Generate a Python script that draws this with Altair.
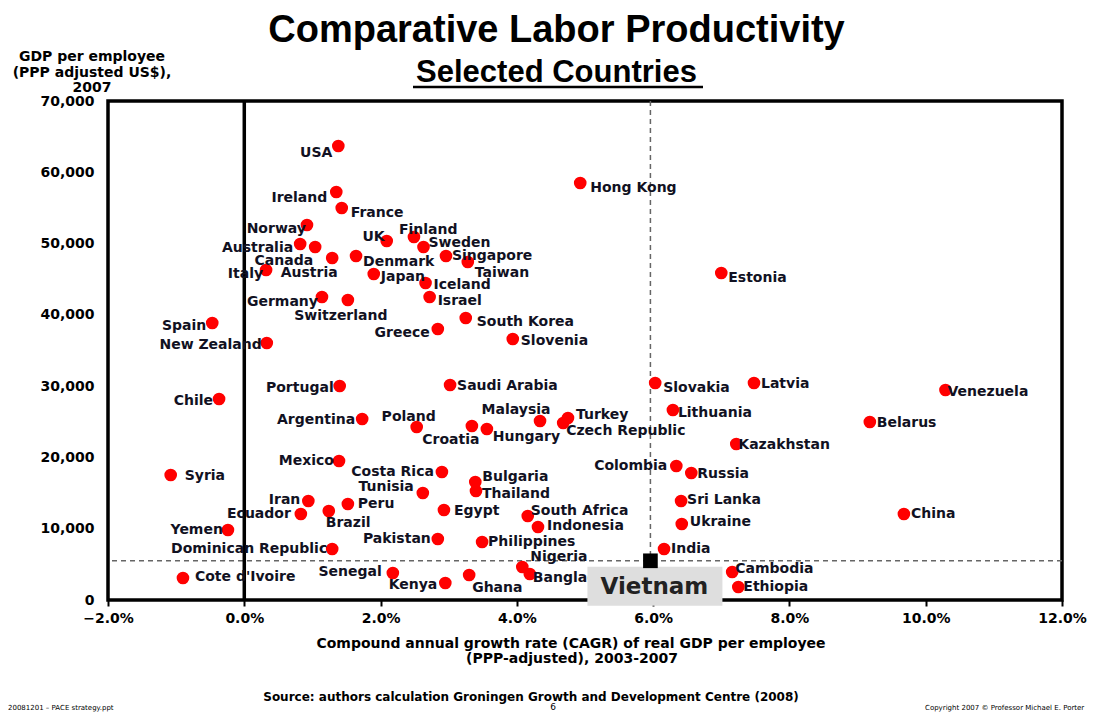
import altair as alt
import pandas as pd

# ---------------- data ----------------
countries = [
    "USA", "Ireland", "France", "Norway", "Australia", "Austria", "Canada", "Italy",
    "Denmark", "UK", "Finland", "Sweden", "Singapore", "Taiwan", "Japan", "Iceland",
    "Israel", "Germany", "Switzerland", "South Korea", "Greece", "Slovenia", "Hong Kong",
    "Estonia", "Spain", "New Zealand", "Portugal", "Chile", "Argentina", "Poland",
    "Croatia", "Hungary", "Malaysia", "Turkey", "Czech Republic", "Saudi Arabia",
    "Slovakia", "Latvia", "Lithuania", "Kazakhstan", "Colombia", "Russia", "Sri Lanka",
    "Ukraine", "India", "Cambodia", "Ethiopia", "Belarus", "Venezuela", "China",
    "Mexico", "Costa Rica", "Syria", "Bulgaria", "Thailand", "Tunisia", "Iran",
    "Ecuador", "Brazil", "Peru", "Egypt", "South Africa", "Indonesia", "Yemen",
    "Pakistan", "Philippines", "Dominican Republic", "Nigeria", "Bangladesh",
    "Senegal", "Kenya", "Ghana", "Cote d'Ivoire",
]
cagr = [
    1.38, 1.35, 1.43, 0.92, 0.82, 1.04, 1.29, 0.32,
    1.64, 2.09, 2.49, 2.63, 2.96, 3.28, 1.90, 2.66,
    2.72, 1.14, 1.52, 3.25, 2.84, 3.94, 4.93,
    7.00, -0.47, 0.33, 1.40, -0.37, 1.73, 2.53,
    3.34, 3.56, 4.34, 4.75, 4.68, 3.02,
    6.03, 7.48, 6.29, 7.22, 6.34, 6.56, 6.41,
    6.42, 6.16, 7.16, 7.25, 9.18, 10.29, 9.68,
    1.39, 2.90, -1.08, 3.39, 3.40, 2.62, 0.94,
    0.83, 1.24, 1.52, 2.93, 4.16, 4.31, -0.24,
    2.84, 3.49, 1.29, 4.08, 4.19,
    2.18, 2.95, 3.30, -0.90,
]
gdp = [
    63690, 57230, 54990, 52600, 49940, 49520, 47980, 46290,
    48260, 50360, 50920, 49520, 48260, 47410, 45730, 44470,
    42510, 42510, 42080, 39560, 38020, 36610, 58500,
    45870, 38860, 36050, 30020, 28200, 25390, 24270,
    24410, 23990, 25110, 25530, 24830, 30160,
    30440, 30440, 26650, 21880, 18800, 17820, 13890,
    10660, 7150, 3930, 1820, 24970, 29460, 12060,
    19500, 17960, 17540, 16550, 15290, 15010, 13890,
    12060, 12480, 13470, 12630, 11780, 10240, 9820,
    8560, 8140, 7150, 4630, 3650,
    3790, 2380, 3510, 3090,
]
vietnam_name = "Vietnam"
vietnam_cagr = 5.96
vietnam_gdp = 5500

x_ticks = [-2, 0, 2, 4, 6, 8, 10, 12]
y_ticks = [0, 10000, 20000, 30000, 40000, 50000, 60000, 70000]

title_text = "Comparative Labor Productivity"
subtitle_text = "Selected Countries"
y_title_lines = ["GDP per employee", "(PPP adjusted US$),", "2007"]
x_title_lines = ["Compound annual growth rate (CAGR) of real GDP per employee",
                 "(PPP-adjusted), 2003-2007"]
source_text = "Source: authors calculation Groningen Growth and Development Centre (2008)"
page_text = "6"
footer_left = "20081201 \u2013 PACE strategy.ppt"
footer_right = "Copyright 2007 \u00a9 Professor Michael E. Porter"

# ---------------- layout (label placement, pixels) ----------------
W, H = 954, 499
XPX = W / 14.0
YPX = H / 70000.0

LABEL_LAYOUT = {
    "USA": ("right", -6, 7), "Ireland": ("right", -9, 6), "France": ("left", 9, 5),
    "Norway": ("right", -1, 4), "Australia": ("right", -7, 4), "Austria": ("center", -6, 26),
    "Canada": ("right", -19, 3), "Italy": ("right", -3, 4), "Denmark": ("left", 7, 6),
    "UK": ("right", -2, -4), "Finland": ("left", -15, -7), "Sweden": ("left", 5, -4),
    "Singapore": ("left", 6, 0), "Taiwan": ("left", 7, 11), "Japan": ("left", 7, 3),
    "Iceland": ("left", 8, 2), "Israel": ("left", 8, 4), "Germany": ("right", -4, 5),
    "Switzerland": ("center", -7, 16), "South Korea": ("left", 11, 4),
    "Greece": ("right", -8, 4), "Slovenia": ("left", 8, 2), "Hong Kong": ("left", 10, 5),
    "Estonia": ("left", 7, 5), "Spain": ("right", -6, 3), "New Zealand": ("right", -5, 2),
    "Portugal": ("right", -6, 2), "Chile": ("right", -6, 2), "Argentina": ("right", -7, 1),
    "Poland": ("center", -8, -10), "Croatia": ("center", -21, 14), "Hungary": ("left", 6, 8),
    "Malaysia": ("center", -24, -11), "Turkey": ("left", 8, -3),
    "Czech Republic": ("left", 3, 8), "Saudi Arabia": ("left", 7, 1),
    "Slovakia": ("left", 8, 5), "Latvia": ("left", 7, 1), "Lithuania": ("left", 5, 3),
    "Kazakhstan": ("left", 2, 1), "Colombia": ("right", -9, 0), "Russia": ("left", 6, 1),
    "Sri Lanka": ("left", 6, -1), "Ukraine": ("left", 8, -2), "India": ("left", 7, 0),
    "Cambodia": ("left", 3, -3), "Ethiopia": ("left", 5, 0), "Belarus": ("left", 7, 1),
    "Venezuela": ("left", 2, 2), "China": ("left", 7, 0), "Mexico": ("right", -5, 0),
    "Costa Rica": ("right", -8, 0), "Syria": ("left", 14, 1), "Bulgaria": ("left", 7, -5),
    "Thailand": ("left", 6, 3), "Tunisia": ("right", -9, -6), "Iran": ("right", -8, -1),
    "Ecuador": ("right", -10, 0), "Brazil": ("left", -3, 12), "Peru": ("left", 10, 0),
    "Egypt": ("left", 10, 1), "South Africa": ("left", 3, -5), "Indonesia": ("left", 9, -1),
    "Yemen": ("right", -5, 0), "Pakistan": ("right", -7, 0), "Philippines": ("left", 6, 0),
    "Dominican Republic": ("right", -5, 0), "Nigeria": ("left", 8, -10),
    "Bangladesh": ("left", 3, 4), "Senegal": ("right", -11, -1), "Kenya": ("right", -8, 2),
    "Ghana": ("left", 3, 13), "Cote d'Ivoire": ("left", 12, -1),
}
VN_BOX = (-63, 72, 6, 45)   # dx1, dx2, dy1, dy2 (pixels from the square)
VN_TEXT = (4, 26)

LABEL_FONT = "DejaVu Sans"
TITLE_FONT = "Liberation Sans"
INK = "#111122"

df = pd.DataFrame({"country": countries, "cagr": cagr, "gdp": gdp})
df["align"] = [LABEL_LAYOUT[c][0] for c in countries]
df["lx"] = [x + LABEL_LAYOUT[c][1] / XPX for c, x in zip(countries, cagr)]
df["ly"] = [y - LABEL_LAYOUT[c][2] / YPX for c, y in zip(countries, gdp)]

xscale = alt.Scale(domain=[-2, 12], nice=False, zero=False)
yscale = alt.Scale(domain=[0, 70000], nice=False, zero=False)
xaxis = alt.Axis(values=x_ticks, labelExpr="format(datum.value, '.1f') + '%'",
                 title=None, grid=False, domain=False, tickSize=6, tickWidth=2,
                 tickColor="black", labelPadding=5, labelFlush=False, zindex=0)
yaxis = alt.Axis(values=y_ticks, format=",d", title=None, grid=False, domain=False,
                 ticks=False, labelPadding=14, labelFlush=False, zindex=0)


def X(f):
    return alt.X(f, type="quantitative", scale=xscale, axis=xaxis)


def Y(f):
    return alt.Y(f, type="quantitative", scale=yscale, axis=yaxis)


vn = pd.DataFrame({
    "name": [vietnam_name], "cagr": [vietnam_cagr], "gdp": [vietnam_gdp],
    "bx1": [vietnam_cagr + VN_BOX[0] / XPX], "bx2": [vietnam_cagr + VN_BOX[1] / XPX],
    "by1": [vietnam_gdp - VN_BOX[2] / YPX], "by2": [vietnam_gdp - VN_BOX[3] / YPX],
    "tx": [vietnam_cagr + VN_TEXT[0] / XPX], "ty": [vietnam_gdp - VN_TEXT[1] / YPX],
})

base_vn = alt.Chart(vn)
vline = base_vn.mark_rule(color="#666666", strokeWidth=1.5, strokeDash=[5, 4]).encode(x=X("cagr"))
hline = base_vn.mark_rule(color="#666666", strokeWidth=1.5, strokeDash=[5, 4]).encode(y=Y("gdp"))
zero = alt.Chart(pd.DataFrame({"z": [0]})).mark_rule(color="black", strokeWidth=3.5).encode(x=X("z"))

dots = alt.Chart(df).mark_circle(size=160, color="#ff0000", opacity=1).encode(x=X("cagr"), y=Y("gdp"))

label_layers = []
for al in ["left", "right", "center"]:
    label_layers.append(
        alt.Chart(df).transform_filter(alt.datum.align == al)
        .mark_text(align=al, baseline="middle", font=LABEL_FONT, fontWeight="bold",
                   fontSize=14, color=INK)
        .encode(x=X("lx"), y=Y("ly"), text="country:N")
    )

vbox = base_vn.mark_rect(color="#dedede").encode(x=X("bx1"), x2="bx2", y=Y("by1"), y2="by2")
vtext = base_vn.mark_text(align="center", baseline="middle", font=LABEL_FONT, fontWeight="bold",
                          fontSize=23, color="#222222").encode(x=X("tx"), y=Y("ty"), text="name:N")
vsq = base_vn.mark_square(size=215, color="black", opacity=1).encode(x=X("cagr"), y=Y("gdp"))


def txt(s, x, y, size, font=LABEL_FONT, align="center", weight="bold", color="black"):
    return alt.Chart(pd.DataFrame({"t": [s]})).mark_text(
        align=align, baseline="alphabetic", font=font, fontSize=size, fontWeight=weight,
        color=color).encode(x=alt.value(x), y=alt.value(y), text="t:N")


overlay = [
    txt(title_text, 448.5, -59, 38, font=TITLE_FONT),
    txt(subtitle_text, 448.5, -19, 31, font=TITLE_FONT),
    alt.Chart(pd.DataFrame({"a": [1]})).mark_rule(color="black", strokeWidth=2.5).encode(
        x=alt.value(305), x2=alt.value(595), y=alt.value(-14)),
    txt(y_title_lines[0], -16, -40, 14),
    txt(y_title_lines[1], -16, -24, 14),
    txt(y_title_lines[2], -16, -9, 14),
    txt(x_title_lines[0], 463, 547, 14),
    txt(x_title_lines[1], 464, 562, 14),
    txt(source_text, 423, 600, 12),
    txt(page_text, 445, 609, 9, weight="normal"),
    txt(footer_left, -100, 609, 7, align="left", weight="normal"),
    txt(footer_right, 817, 609, 7, align="left", weight="normal"),
]

chart = alt.layer(vline, hline, zero, dots, *label_layers, vbox, vtext, vsq, *overlay).properties(
    width=W, height=H, autosize="none",
    padding={"left": 100, "top": 93, "right": 46, "bottom": 114},
).configure_view(stroke="black", strokeWidth=3.5).configure_axis(
    labelFont=LABEL_FONT, labelFontWeight="bold", labelFontSize=14, labelColor="black"
)

chart.save("out.html", embed_options={"renderer": "svg", "actions": False})
